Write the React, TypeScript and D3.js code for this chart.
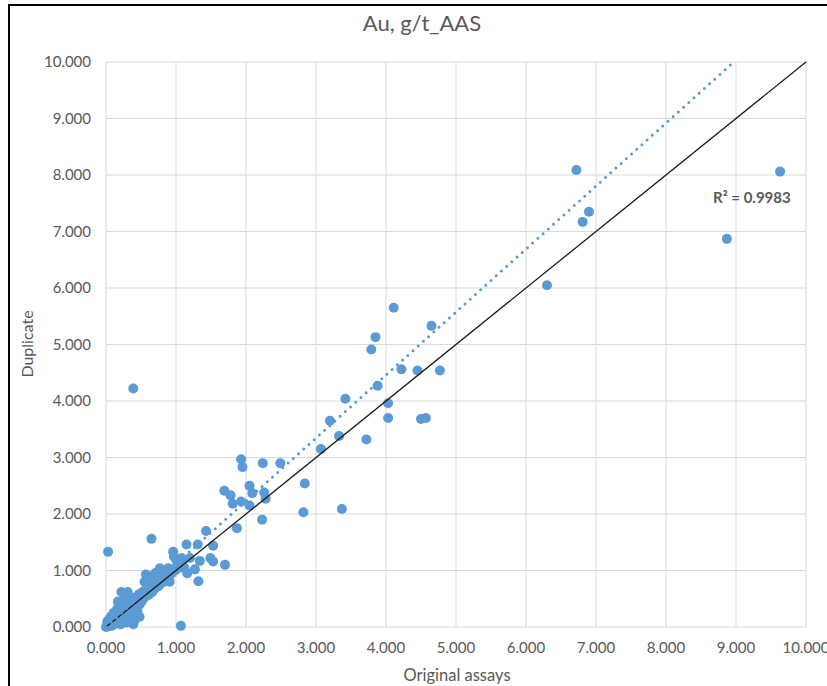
import React from "react";
import * as d3 from "d3";

const chartTitle = "Au, g/t_AAS";
const xAxisTitle = "Original assays";
const yAxisTitle = "Duplicate";
const xTicks = [0, 1, 2, 3, 4, 5, 6, 7, 8, 9, 10];
const yTicks = [0, 1, 2, 3, 4, 5, 6, 7, 8, 9, 10];
const trendSlope = 1.115;
const r2Label = "R² = 0.9983";

// [original, duplicate]
const highPairs: [number, number][] = [
  [9.63, 8.06], [8.87, 6.87], [6.72, 8.09], [6.90, 7.35], [6.81, 7.17], [6.30, 6.05],
  [4.11, 5.65], [4.65, 5.33], [3.85, 5.13], [3.79, 4.91], [4.22, 4.56], [4.45, 4.54],
  [4.77, 4.54], [3.88, 4.27], [3.42, 4.04], [4.03, 3.96], [4.03, 3.70], [4.50, 3.68],
  [4.57, 3.70], [3.20, 3.65], [3.33, 3.38], [3.72, 3.32], [3.07, 3.15], [2.84, 2.54],
  [2.82, 2.03], [3.37, 2.09], [0.39, 4.22],
];

const midPairs: [number, number][] = [
  [1.93, 2.97], [1.95, 2.83], [2.24, 2.90], [2.49, 2.90], [1.69, 2.41], [1.78, 2.33],
  [1.81, 2.18], [1.93, 2.22], [2.05, 2.50], [2.09, 2.37], [2.05, 2.15], [2.26, 2.38],
  [2.28, 2.27], [2.23, 1.90], [1.87, 1.75], [1.43, 1.70], [0.65, 1.56], [1.15, 1.46],
  [1.31, 1.46], [1.53, 1.44], [0.96, 1.33], [0.97, 1.25], [1.49, 1.22], [1.53, 1.16],
  [1.34, 1.17], [1.70, 1.10], [1.27, 1.02], [1.16, 0.95], [1.32, 0.81], [0.03, 1.33],
  [1.07, 0.02], [1.05, 1.15], [1.08, 1.22], [1.10, 1.18], [1.12, 1.05], [1.00, 1.20],
  [1.02, 1.12], [1.05, 1.05], [1.20, 1.22], [0.99, 1.00],
];

const lowPairs: [number, number][] = [
  [0.00, 0.00], [0.01, 0.02], [0.02, 0.05], [0.03, 0.01], [0.02, 0.10], [0.04, 0.08],
  [0.05, 0.03], [0.05, 0.15], [0.06, 0.06], [0.07, 0.11], [0.08, 0.02], [0.08, 0.20],
  [0.09, 0.09], [0.10, 0.14], [0.10, 0.04], [0.11, 0.25], [0.12, 0.10], [0.13, 0.18],
  [0.14, 0.06], [0.15, 0.30], [0.15, 0.14], [0.16, 0.22], [0.17, 0.45], [0.18, 0.10],
  [0.18, 0.35], [0.19, 0.18], [0.20, 0.26], [0.21, 0.05], [0.22, 0.62], [0.22, 0.40],
  [0.23, 0.20], [0.24, 0.30], [0.25, 0.14], [0.26, 0.50], [0.27, 0.25], [0.28, 0.36],
  [0.29, 0.08], [0.30, 0.44], [0.31, 0.62], [0.31, 0.28], [0.32, 0.55], [0.33, 0.20],
  [0.34, 0.38], [0.35, 0.47], [0.36, 0.30], [0.37, 0.52], [0.38, 0.25], [0.39, 0.05],
  [0.40, 0.42], [0.41, 0.12], [0.42, 0.35], [0.43, 0.50], [0.44, 0.40], [0.45, 0.28],
  [0.46, 0.45], [0.47, 0.58], [0.48, 0.18], [0.48, 0.40], [0.50, 0.52], [0.51, 0.45],
  [0.52, 0.62], [0.53, 0.50], [0.55, 0.56], [0.55, 0.80], [0.56, 0.65], [0.57, 0.93],
  [0.58, 0.55], [0.60, 0.62], [0.60, 0.85], [0.61, 0.70], [0.62, 0.58], [0.63, 0.66],
  [0.65, 0.75], [0.65, 0.88], [0.66, 0.62], [0.68, 0.70], [0.69, 0.80], [0.70, 0.68],
  [0.70, 0.95], [0.72, 0.76], [0.73, 0.85], [0.74, 0.98], [0.75, 0.72], [0.76, 0.80],
  [0.77, 1.04], [0.78, 0.88], [0.80, 0.78], [0.81, 0.86], [0.83, 0.92], [0.84, 0.82],
  [0.86, 0.90], [0.88, 0.98], [0.89, 1.04], [0.90, 0.86], [0.91, 0.80], [0.92, 1.02],
  [0.94, 0.95],
];

const allPairs = [...lowPairs, ...midPairs, ...highPairs];

const W = 827;
const H = 686;
const plot = { left: 106, right: 806, top: 62, bottom: 627 };
const font = "Lato, 'Open Sans', sans-serif";
const textColor = "#595959";
const gridColor = "#d9d9d9";
const markerColor = "#5b9bd5";

export default function App() {
  const x = d3.scaleLinear().domain([0, 10]).range([plot.left, plot.right]);
  const y = d3.scaleLinear().domain([0, 10]).range([plot.bottom, plot.top]);
  const fmt = d3.format(".3f");
  const line = d3.line<[number, number]>().x((d) => x(d[0])).y((d) => y(d[1]));
  const xMax = d3.max(allPairs, (d) => d[0]) as number;
  const trendEnd = Math.min(xMax, 10 / trendSlope);
  const trendPath = line([[0, 0], [trendEnd, trendEnd * trendSlope]]) as string;
  const identityPath = line([[0, 0], [10, 10]]) as string;

  return (
    <svg
      width={W}
      height={H}
      style={{ position: "absolute", left: 0, top: 0, background: "#fff" }}
      fontFamily={font}
    >
      <rect x={0} y={0} width={W} height={H} fill="#fff" />
      <path d={`M9,${H} V5 H${W}`} fill="none" stroke="#000" strokeWidth={2} />
      <text x={422} y={31} textAnchor="middle" fontSize={22} fill={textColor}>
        {chartTitle}
      </text>
      {xTicks.map((t) => (
        <line key={"gx" + t} x1={x(t)} x2={x(t)} y1={plot.top} y2={plot.bottom} stroke={gridColor} strokeWidth={1} />
      ))}
      {yTicks.map((t) => (
        <line key={"gy" + t} x1={plot.left} x2={plot.right} y1={y(t)} y2={y(t)} stroke={gridColor} strokeWidth={1} />
      ))}
      {xTicks.map((t) => (
        <text key={"tx" + t} x={x(t)} y={653} textAnchor="middle" fontSize={15} fill={textColor}>
          {fmt(t)}
        </text>
      ))}
      {yTicks.map((t) => (
        <text key={"ty" + t} x={91} y={y(t) + 5.3} textAnchor="end" fontSize={15} fill={textColor}>
          {fmt(t)}
        </text>
      ))}
      <text x={457} y={681} textAnchor="middle" fontSize={16.5} fill={textColor}>
        {xAxisTitle}
      </text>
      <text
        transform={`translate(33, 344) rotate(-90)`}
        textAnchor="middle"
        fontSize={16}
        fill={textColor}
      >
        {yAxisTitle}
      </text>
      <g>
        {allPairs.map((d, i) => (
          <circle key={i} cx={x(d[0])} cy={y(d[1])} r={5} fill={markerColor} />
        ))}
      </g>
      <path d={identityPath} fill="none" stroke="#1a1a1a" strokeWidth={1.3} />
      <path
        d={trendPath}
        fill="none"
        stroke={markerColor}
        strokeWidth={3}
        strokeDasharray="0 7"
        strokeLinecap="round"
      />
      <text x={713} y={203} fontSize={15} fontWeight="bold" fill={textColor}>
        {r2Label}
      </text>
    </svg>
  );
}
